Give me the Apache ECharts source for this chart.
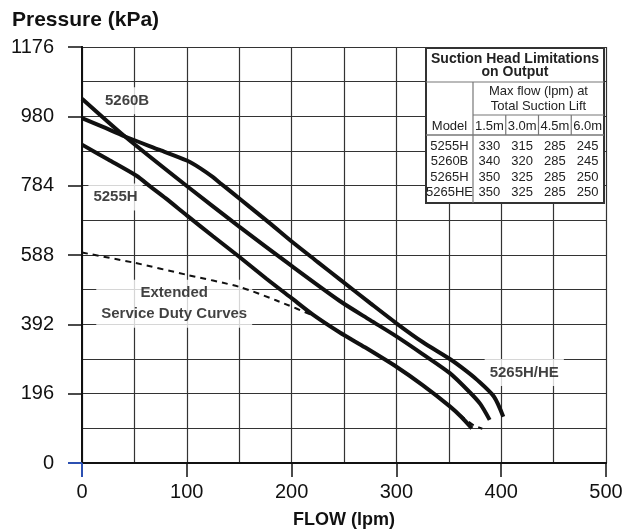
<!DOCTYPE html>
<html><head><meta charset="utf-8">
<script src="https://cdn.jsdelivr.net/npm/echarts@6/dist/echarts.min.js"></script>
<style>html,body{margin:0;padding:0;background:#fff}#c{width:623px;height:531px}</style>
</head><body><div id="c"></div>
<script>
// ---- data (flow lpm, pressure kPa) ----
const curve5265H = [[0,975],[20,950],[41,923],[74,885],[100,855],[113,833],[125,808],[132,791],[145,760],[160,724],[180,676],[201,624],[225,568],[246,519],[275,452],[300,395],[325,342],[351,294],[365,264],[377,235],[393,188],[402,131]];
const curve5260B = [[0,1030],[41,923],[100,783],[150,668],[200,557],[246,458],[275,404],[300,358],[325,308],[351,254],[370,200],[380,167],[389,122]];
const curve5255H = [[0,900],[25,858],[52,812],[65,782],[80,748],[100,700],[125,641],[150,583],[176,521],[200,466],[221,418],[246,369],[270,327],[300,272],[325,220],[351,160],[362,130],[372,98]];
const curveExtended = [[0,595],[50,566],[100,532],[150,498],[185,460],[225,410],[246,369],[270,327],[300,272],[325,220],[351,160],[364,128],[374,106],[382,97]];
const xTickValues = [0,100,200,300,400,500];
const yTickValues = [0,196,392,588,784,980,1176];
const curveLabels = [
  {name:'5260B', value:[43,1024]},
  {name:'5255H', value:[32,752]},
  {name:'Extended\nService Duty Curves', value:[88,450]},
  {name:'5265H/HE', value:[422,256]}
];
const tableTitle = ['Suction Head Limitations','on Output'];
const tableSub = ['Max flow (lpm) at','Total Suction Lift'];
const modelHeader = 'Model';
const liftHeaders = ['1.5m','3.0m','4.5m','6.0m'];
const tableModels = ['5255H','5260B','5265H','5265HE'];
const tableFlows = [[330,315,285,245],[340,320,285,245],[350,325,285,250],[350,325,285,250]];

const FF = 'Liberation Sans, Arial, Helvetica, sans-serif';
const chart = echarts.init(document.getElementById('c'));

const curveStyle = {color:'#111', width:4};
function curveSeries(name, data){
  return {name, type:'line', data, smooth:0.25, symbol:'none', lineStyle:curveStyle, z:4, silent:true};
}

chart.setOption({
  animation:false,
  backgroundColor:'#fff',
  title:{text:'Pressure (kPa)', left:7, top:5, textStyle:{fontSize:21, fontWeight:'bold', color:'#111', fontFamily:FF}},
  grid:{left:82, right:17, top:47, bottom:68, containLabel:false, outerBoundsMode:'none'},
  xAxis:[{
    type:'value', min:xTickValues[0], max:xTickValues[xTickValues.length-1], interval:100, position:'bottom',
    axisLine:{show:true, onZero:false, lineStyle:{color:'#111', width:2}},
    axisTick:{show:true, length:14, lineStyle:{color:'#111', width:1.5}},
    axisLabel:{fontSize:20, color:'#111', margin:19, fontFamily:FF, formatter:v=>String(v)},
    splitLine:{show:true, lineStyle:{color:'#333', width:1.2}},
    minorTick:{show:false, splitNumber:2},
    minorSplitLine:{show:true, lineStyle:{color:'#333', width:1.2}},
    name:'FLOW (lpm)', nameLocation:'middle', nameGap:48,
    nameTextStyle:{fontSize:18, fontWeight:'bold', color:'#111', fontFamily:FF}
  },{
    type:'value', min:0, max:500, position:'top',
    axisLine:{show:true, lineStyle:{color:'#111', width:2}},
    axisTick:{show:false}, axisLabel:{show:false}, splitLine:{show:false}
  }],
  yAxis:[{
    type:'value', min:yTickValues[0], max:yTickValues[yTickValues.length-1], interval:196,
    axisLine:{show:true, onZero:false, lineStyle:{color:'#111', width:2}},
    axisTick:{show:true, length:14, lineStyle:{color:'#111', width:1.5}},
    axisLabel:{fontSize:20, color:'#111', margin:28, fontFamily:FF, formatter:v=>String(v)},
    splitLine:{show:true, lineStyle:{color:'#333', width:1.2}},
    minorTick:{show:false, splitNumber:2},
    minorSplitLine:{show:true, lineStyle:{color:'#333', width:1.2}}
  },{
    type:'value', min:0, max:1176, position:'right',
    axisLine:{show:true, lineStyle:{color:'#111', width:2}},
    axisTick:{show:false}, axisLabel:{show:false}, splitLine:{show:false}
  }],
  series:[
    {name:'labels', type:'scatter', data:curveLabels, symbolSize:0, silent:true, z:2,
     label:{show:true, position:'inside', formatter:'{b}', fontSize:15, fontWeight:'bold', color:'#111',
            fontFamily:FF, backgroundColor:'#fff', padding:[3,5], lineHeight:21, align:'center'}},
    {name:'Extended Service Duty', type:'line', data:curveExtended, smooth:0.25, symbol:'none', silent:true, z:3,
     lineStyle:{color:'#111', width:2, type:[6,5]}},
    curveSeries('5255H', curve5255H),
    curveSeries('5260B', curve5260B),
    curveSeries('5265H/HE', curve5265H)
  ]
});

// ---- table & corner ticks (graphic) ----
const T = {x:426, y:48, w:178, h:155, titleBottom:82, modelRight:473, subBottom:115, headBottom:135, rowY:[146,161.5,177,192.5]};
const colW = (T.x + T.w - T.modelRight) / liftHeaders.length;
const els = [];
const Z = 100;
function line(x1,y1,x2,y2,w,c){ els.push({type:'line', z:Z+1, shape:{x1,y1,x2,y2}, style:{stroke:c||'#888', lineWidth:w||1}}); }
function text(t,x,y,bold,size){ els.push({type:'text', z:Z+2, x, y, style:{text:String(t), font:(bold?'bold ':'')+(size||13)+'px '+FF, fill:'#222', align:'center', verticalAlign:'middle', textAlign:'center', textVerticalAlign:'middle'}}); }
els.push({type:'rect', z:Z, shape:{x:T.x, y:T.y, width:T.w, height:T.h}, style:{fill:'#fff', stroke:'#333', lineWidth:2}});
line(T.x, T.titleBottom, T.x+T.w, T.titleBottom, 1.2, '#777');
line(T.modelRight, T.titleBottom, T.modelRight, T.y+T.h, 1.2, '#777');
line(T.modelRight, T.subBottom, T.x+T.w, T.subBottom, 1.2, '#777');
for (let i=1;i<liftHeaders.length;i++){ const cx=T.modelRight+colW*i; line(cx, T.subBottom, cx, T.headBottom, 1.2, '#777'); }
line(T.x, T.headBottom, T.x+T.w, T.headBottom, 1.6, '#777');
const cxAll = T.x + T.w/2;
text(tableTitle[0], cxAll, 59, true, 14);
text(tableTitle[1], cxAll, 72, true, 14);
const cxRight = (T.modelRight + T.x + T.w)/2;
text(tableSub[0], cxRight, 91);
text(tableSub[1], cxRight, 106);
const cxModel = (T.x + T.modelRight)/2;
text(modelHeader, cxModel, 126);
liftHeaders.forEach((h,i)=> text(h, T.modelRight+colW*(i+0.5), 126));
tableModels.forEach((m,r)=>{
  text(m, cxModel, T.rowY[r]);
  tableFlows[r].forEach((v,i)=> text(v, T.modelRight+colW*(i+0.5), T.rowY[r]));
});
const o = chart.convertToPixel({xAxisIndex:0, yAxisIndex:0}, [0,0]);
line(o[0]-14, o[1], o[0], o[1], 1.8, '#2a52be');
line(o[0], o[1], o[0], o[1]+14, 1.8, '#2a52be');
chart.setOption({graphic:{elements:els}});
</script></body></html>
